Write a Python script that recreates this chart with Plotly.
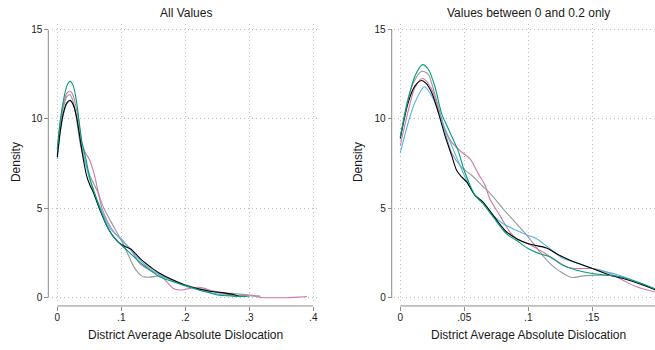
import plotly.graph_objects as go

# ---------------- data: left panel (All Values) ----------------
all_black_x = [0, .005, .01, .015, .02, .025, .03, .0365, .0407, .0459, .051, .0563, .0656, .0797, .0953, .105, .115, .12, .13, .14, .15, .16, .18, .2, .22, .24, .26, .275, .285]
all_black_y = [7.87, 9.4, 10.4, 10.9, 11.05, 10.8, 10.15, 8.68, 7.75, 6.82, 6.3, 5.9, 5.0, 3.86, 3.11, 2.88, 2.72, 2.55, 2.17, 1.87, 1.6, 1.37, 1.0, 0.7, 0.5, 0.35, 0.27, 0.18, 0.06]

all_gray_x = [0, .005, .01, .015, .02, .025, .03, .0355, .0417, .0511, .0633, .0728, .09, .103, .112, .1214, .132, .138, .1449, .1605, .17, .1813, .2, .22, .24, .26, .28, .3, .317]
all_gray_y = [8.0, 9.7, 10.7, 11.25, 11.35, 10.95, 10.0, 8.68, 7.75, 6.82, 5.9, 5.0, 3.86, 3.0, 2.3, 1.63, 1.22, 1.15, 1.15, 1.22, 1.12, 0.98, 0.72, 0.52, 0.38, 0.28, 0.22, 0.15, 0.09]

all_blue_x = [0, .005, .01, .015, .02, .025, .031, .037, .043, .049, .0575, .0678, .0828, .1, .1084, .124, .14, .15, .16, .18, .2, .22, .24, .26, .28, .3]
all_blue_y = [7.75, 9.3, 10.3, 10.85, 11.0, 10.8, 10.0, 8.68, 7.75, 6.82, 5.9, 5.0, 3.86, 3.3, 2.95, 2.28, 1.75, 1.5, 1.3, 0.95, 0.65, 0.45, 0.28, 0.15, 0.1, 0.06]

all_pink_x = [0, .005, .01, .015, .02, .025, .029, .033, .0384, .044, .05, .0578, .064, .07, .0842, .098, .1136, .129, .1449, .1605, .171, .1813, .1943, .2073, .22, .23, .24, .255, .275, .3, .31, .32, .34, .36, .38, .39]
all_pink_y = [8.3, 9.9, 10.9, 11.45, 11.55, 11.3, 10.7, 10.0, 8.68, 8.1, 7.75, 6.9, 5.9, 5.0, 3.9, 3.3, 2.74, 1.91, 1.54, 1.26, 0.89, 0.52, 0.43, 0.52, 0.58, 0.52, 0.4, 0.24, 0.15, 0.11, 0.07, 0.01, 0.0, 0.0, 0.04, 0.06]

all_green_x = [0, .005, .01, .015, .02, .025, .03, .0386, .0449, .05, .0578, .0667, .0797, .0953, .105, .115, .13, .14, .15, .16, .18, .2, .22, .24, .25, .275, .296]
all_green_y = [8.3, 10.0, 11.1, 11.85, 12.1, 11.85, 11.0, 8.68, 7.75, 6.82, 5.9, 5.0, 3.86, 3.11, 2.78, 2.45, 1.95, 1.68, 1.4, 1.17, 0.9, 0.68, 0.45, 0.25, 0.15, 0.09, 0.07]

# ---------------- data: right panel (Values between 0 and 0.2 only) ----------------
sub_black_x = [0, .00625, .0115, .0167, .02, .0245, .0297, .0349, .0401, .044, .0479, .0518, .0583, .0648, .0727, .0818, .0909, .1, .1143, .1221, .1326, .15, .1638, .1742, .19, .2]
sub_black_y = [8.9, 10.93, 11.85, 12.15, 12.0, 11.48, 10.37, 9.07, 7.96, 7.13, 6.76, 6.48, 5.74, 5.33, 4.59, 3.76, 3.3, 3.02, 2.78, 2.46, 2.09, 1.63, 1.26, 1.07, 0.7, 0.42]

sub_gray_x = [0, .00625, .0115, .0167, .0219, .0245, .0297, .0349, .0401, .0479, .0557, .0635, .0714, .0805, .0909, .1, .109, .117, .1273, .1339, .143, .156, .169, .1846, .2]
sub_gray_y = [9.0, 11.2, 12.2, 12.67, 12.5, 12.0, 10.7, 9.3, 8.1, 7.31, 6.85, 6.3, 5.74, 4.96, 4.13, 3.39, 2.56, 1.91, 1.35, 1.13, 1.22, 1.26, 1.2, 0.89, 0.43]

sub_blue_x = [0, .00625, .0115, .0188, .0245, .0297, .0349, .0401, .0466, .0518, .0583, .065, .0727, .08, .0909, .1, .1065, .1169, .1273, .1378, .15, .169, .19, .2]
sub_blue_y = [8.1, 9.8, 10.93, 11.8, 11.3, 10.46, 9.44, 8.52, 7.41, 6.57, 5.74, 5.3, 4.6, 4.15, 3.76, 3.48, 3.3, 2.74, 2.19, 1.96, 1.63, 1.3, 0.75, 0.43]

sub_pink_x = [0, .00625, .0115, .0175, .0245, .0297, .0349, .0401, .0479, .0544, .0609, .0661, .07, .0779, .0857, .0909, .1, .109, .1195, .13, .1378, .1508, .161, .174, .1846, .2]
sub_pink_y = [8.5, 10.46, 11.76, 12.26, 11.67, 10.56, 9.44, 8.7, 8.15, 7.78, 6.94, 6.3, 5.52, 4.59, 3.67, 3.3, 3.02, 2.65, 2.19, 1.72, 1.63, 1.63, 1.44, 0.98, 0.61, 0.3]

sub_green_x = [0, .00625, .0115, .0174, .0219, .0271, .0323, .0375, .0453, .05, .0583, .0648, .0727, .083, .0909, .1, .109, .117, .127, .1378, .15, .161, .1716, .19, .2]
sub_green_y = [8.98, 11.1, 12.4, 13.04, 12.78, 11.8, 10.3, 9.45, 8.2, 7.1, 5.74, 5.25, 4.5, 3.57, 3.2, 2.74, 2.46, 2.28, 1.81, 1.54, 1.35, 1.26, 1.17, 0.75, 0.46]

series_names = ["Series 1", "Series 2", "Series 3", "Series 4", "Series 5"]
series_colors = ["#000000", "#999999", "#56B4E9", "#CC79A7", "#009E73"]

y_tickvals = [0, 5, 10, 15]
y_ticktext = ["0", "5", "10", "15"]
left_tickvals = [0, 0.1, 0.2, 0.3, 0.4]
left_ticktext = ["0", ".1", ".2", ".3", ".4"]
right_tickvals = [0, 0.05, 0.1, 0.15, 0.2]
right_ticktext = ["0", ".05", ".1", ".15", ".2"]

left_title = "All Values"
right_title = "Values between 0 and 0.2 only"
x_title = "District Average Absolute Dislocation"
y_title = "Density"

# ---------------- figure ----------------
W, H = 655, 350
FONT = "Liberation Sans, Arial, Helvetica, sans-serif"
TXT = "#1a1a1a"
AXC = "#8c8c8c"
GRID = "#bdbdbd"

def px_x(p):
    return p / W

def px_y(p):
    return 1 - p / H

fig = go.Figure()

left_sets = [(all_black_x, all_black_y), (all_gray_x, all_gray_y), (all_blue_x, all_blue_y),
             (all_pink_x, all_pink_y), (all_green_x, all_green_y)]
right_sets = [(sub_black_x, sub_black_y), (sub_gray_x, sub_gray_y), (sub_blue_x, sub_blue_y),
              (sub_pink_x, sub_pink_y), (sub_green_x, sub_green_y)]

order = [1, 3, 2, 0, 4]
for i in order:
    xs, ys = left_sets[i]
    fig.add_trace(go.Scatter(x=xs, y=ys, mode="lines", name=series_names[i],
                             line=dict(color=series_colors[i], width=1.1, shape="spline", smoothing=0.8),
                             xaxis="x", yaxis="y", showlegend=False, hoverinfo="skip"))
for i in order:
    xs, ys = right_sets[i]
    fig.add_trace(go.Scatter(x=xs, y=ys, mode="lines", name=series_names[i],
                             line=dict(color=series_colors[i], width=1.1, shape="spline", smoothing=0.8),
                             xaxis="x2", yaxis="y2", showlegend=False, hoverinfo="skip"))

y_dom = [px_y(303), px_y(24)]
x_axis_pos = px_y(307.7)

common_axis = dict(showline=False, zeroline=False, showgrid=True, gridcolor=GRID, griddash="1px,3px",
                   gridwidth=1, ticks="outside", ticklen=4, tickwidth=1, tickcolor=AXC,
                   tickfont=dict(family=FONT, size=10, color=TXT), anchor="free", fixedrange=True)

fig.update_layout(
    width=W, height=H, margin=dict(l=0, r=0, t=0, b=0),
    paper_bgcolor="white", plot_bgcolor="white",
    xaxis=dict(common_axis, domain=[px_x(51.5), px_x(320)], range=[-0.009, 0.4105],
               tickvals=left_tickvals, ticktext=left_ticktext, position=x_axis_pos,
               ticklabelstandoff=-2),
    yaxis=dict(common_axis, domain=y_dom, range=[-0.2, 15.32],
               tickvals=y_tickvals, ticktext=y_ticktext, position=px_x(48.3)),
    xaxis2=dict(common_axis, domain=[px_x(394), 1.0], range=[-0.0049, 0.199],
                tickvals=right_tickvals, ticktext=right_ticktext, position=x_axis_pos,
                ticklabelstandoff=-2),
    yaxis2=dict(common_axis, domain=y_dom, range=[-0.2, 15.32],
                tickvals=y_tickvals, ticktext=y_ticktext, position=px_x(391.7)),
)

# axis lines (span tick range, offset from plot region, Stata style)
fig.add_shape(type="line", xref="paper", yref="y", x0=px_x(48.3), x1=px_x(48.3), y0=0, y1=15,
              line=dict(color=AXC, width=1))
fig.add_shape(type="line", xref="x", yref="paper", x0=0, x1=0.4, y0=x_axis_pos, y1=x_axis_pos,
              line=dict(color=AXC, width=1))
fig.add_shape(type="line", xref="paper", yref="y2", x0=px_x(391.7), x1=px_x(391.7), y0=0, y1=15,
              line=dict(color=AXC, width=1))
fig.add_shape(type="line", xref="paper", yref="paper", x0=px_x(400.3), x1=1.0, y0=x_axis_pos, y1=x_axis_pos,
              line=dict(color=AXC, width=1))

def ann(text, x, y, size=12, angle=0):
    fig.add_annotation(text=text, x=px_x(x), y=px_y(y), xref="paper", yref="paper",
                       showarrow=False, textangle=angle, xanchor="center", yanchor="middle",
                       font=dict(family=FONT, size=size, color=TXT))

ann(left_title, 185.5, 13)
ann(right_title, 528, 13)
ann(x_title, 185.5, 337)
ann(x_title, 528, 337)
ann(y_title, 16, 163, angle=-90)
ann(y_title, 358, 163, angle=-90)

fig.write_html("out.html")
